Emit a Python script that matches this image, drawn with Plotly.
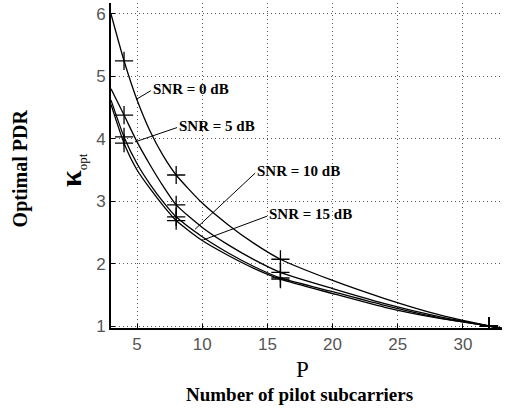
import plotly.graph_objects as go

# ---- data ----
P = [3, 4, 5, 6, 7, 8, 10, 12, 14, 16, 20, 24, 28, 32, 33]
k_0dB = [6.00, 5.25, 4.62, 4.12, 3.73, 3.42, 2.97, 2.62, 2.32, 2.07, 1.73, 1.44, 1.19, 1.00, 0.96]
k_5dB = [4.80, 4.38, 3.95, 3.58, 3.24, 2.94, 2.58, 2.30, 2.06, 1.86, 1.60, 1.36, 1.16, 1.00, 0.96]
k_10dB = [4.62, 4.03, 3.60, 3.27, 2.99, 2.75, 2.43, 2.17, 1.95, 1.77, 1.55, 1.33, 1.14, 1.00, 0.96]
k_15dB = [4.55, 3.93, 3.50, 3.20, 2.93, 2.69, 2.37, 2.13, 1.92, 1.75, 1.52, 1.30, 1.13, 1.00, 0.96]
marker_P = [4, 8, 16, 32]
series = [("SNR = 0 dB", k_0dB), ("SNR = 5 dB", k_5dB),
          ("SNR = 10 dB", k_10dB), ("SNR = 15 dB", k_15dB)]
x_ticks = [5, 10, 15, 20, 25, 30]
y_ticks = [1, 2, 3, 4, 5, 6]

# label placement: (text x, text y, leader end x, leader end y) in data units
label_pos = {
    "SNR = 0 dB": (6.05, 4.80, 4.92, 4.63),
    "SNR = 5 dB": (8.07, 4.21, 4.84, 3.95),
    "SNR = 10 dB": (14.06, 3.48, 9.45, 2.55),
    "SNR = 15 dB": (14.98, 2.79, 10.09, 2.38),
}

SERIF = "Liberation Serif"
SANS = "Liberation Sans"

fig = go.Figure()
for name, vals in series:
    fig.add_trace(go.Scatter(x=P, y=vals, mode="lines",
                             line=dict(color="black", width=1.3, shape="spline", smoothing=0.6),
                             showlegend=False, hoverinfo="skip"))
    mx = [p for p in P if p in marker_P]
    my = [v for p, v in zip(P, vals) if p in marker_P]
    fig.add_trace(go.Scatter(x=mx, y=my, mode="markers",
                             marker=dict(symbol="cross-thin", size=13, line=dict(color="black", width=1.3)),
                             showlegend=False, hoverinfo="skip"))

annotations = []
shapes = []
for name, _ in series:
    tx, ty, ex, ey = label_pos[name]
    annotations.append(dict(x=tx, y=ty, xref="x", yref="y", text="<b>" + name + "</b>", showarrow=False,
                            xanchor="left", yanchor="middle", font=dict(family=SERIF, size=15, color="black")))
    shapes.append(dict(type="line", xref="x", yref="y", x0=tx, y0=ty - 0.03, x1=ex, y1=ey,
                       line=dict(color="black", width=1)))

annotations += [
    dict(x=-0.232, y=0.492, xref="paper", yref="paper", text="<b>Optimal PDR</b>", textangle=-90, showarrow=False,
         xanchor="center", yanchor="middle", font=dict(family=SERIF, size=20, color="black")),
    dict(x=-0.10, y=0.486, xref="paper", yref="paper",
         text="<b>κ</b><sub><span style='font-size:13px'>opt</span></sub>", textangle=-90, showarrow=False,
         xanchor="center", yanchor="middle", font=dict(family=SERIF, size=30, color="black")),
    dict(x=0.4885, y=-0.127, xref="paper", yref="paper", text="P", showarrow=False,
         xanchor="center", yanchor="middle", font=dict(family=SERIF, size=23, color="black")),
    dict(x=0.483, y=-0.205, xref="paper", yref="paper", text="<b>Number of pilot subcarriers</b>", showarrow=False,
         xanchor="center", yanchor="middle", font=dict(family=SERIF, size=19, color="black")),
]

grid = dict(showgrid=True, gridcolor="#555", gridwidth=1, griddash="1px,3px", zeroline=False,
            showline=True, linecolor="black", linewidth=2, ticks="inside", ticklen=4, tickcolor="black",
            tickfont=dict(family=SANS, size=17, color="#555"), mirror=False)

fig.update_layout(
    width=509, height=410,
    margin=dict(l=111, r=7, t=3, b=82),
    paper_bgcolor="white", plot_bgcolor="white",
    xaxis=dict(range=[3, 33], tickvals=x_ticks, **grid),
    yaxis=dict(range=[0.968, 6.176], tickvals=y_ticks, **grid),
    annotations=annotations, shapes=shapes,
)
fig.write_html("out.html")
